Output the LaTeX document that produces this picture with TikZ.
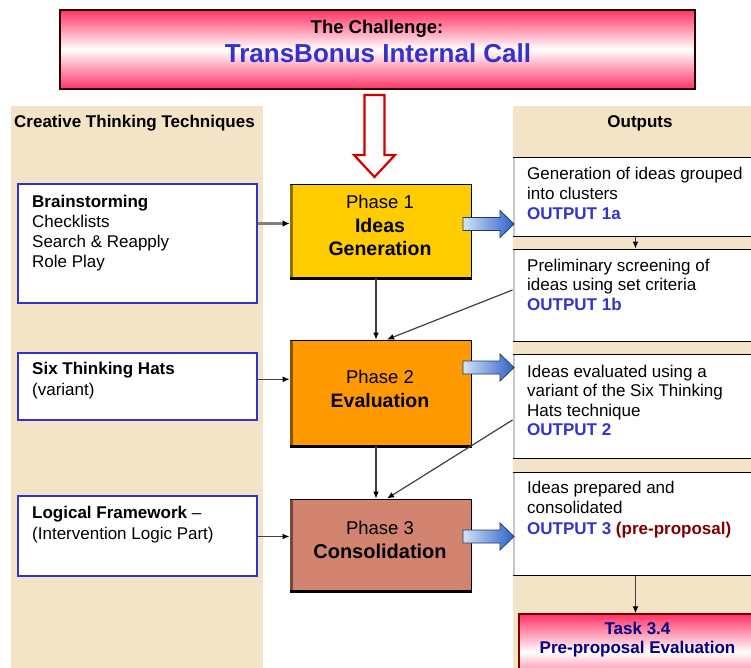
\documentclass[tikz,border=0pt]{standalone}
\usepackage{fontspec}
\setmainfont{Liberation Sans}
\usetikzlibrary{arrows.meta}
\definecolor{beige}{HTML}{F3E3C7}
\definecolor{phaseA}{HTML}{FFCC00}
\definecolor{phaseB}{HTML}{FF9900}
\definecolor{phaseC}{HTML}{D28471}
\definecolor{pinkc}{HTML}{FF3366}
\definecolor{bluetxt}{HTML}{3333CC}
\definecolor{darkredc}{HTML}{800000}
\definecolor{navyc}{HTML}{000080}
\definecolor{arrlight}{HTML}{D2E4F6}
\definecolor{arrdark}{HTML}{2F62C8}
\definecolor{arredge}{HTML}{1F3A70}
\definecolor{redarrow}{HTML}{D40000}
\tikzset{
 txt/.style={inner sep=0pt, font=\fontsize{17}{20}\selectfont},
 btxt/.style={inner sep=0pt, font=\bfseries\fontsize{17}{20}\selectfont},
 mtxt/.style={txt, anchor=north west, align=left},
 techbox/.style={draw=bluetxt, line width=2.6pt, fill=white, inner sep=0pt, minimum width=239pt},
 outbox/.style={draw=black, line width=1pt, fill=white, inner sep=0pt, minimum width=257pt},
 phasebox/.style={draw=black, line width=1pt, inner sep=0pt, minimum width=181pt},
 phasetxt/.style={inner sep=0pt, anchor=north, align=center, font=\fontsize{18.5}{23.5}\selectfont},
 link/.style={draw=black!75, line width=1.2pt, -{Latex[length=7pt,width=6pt,color=black]}},
 glink/.style={draw=black!50, line width=2.4pt, -{Latex[length=7pt,width=7pt,color=black]}},
 pinkbox/.style={top color=pinkc, bottom color=pinkc, middle color=white, inner sep=0pt},
}
\newcommand\blockarr[1]{\shade[left color=arrlight, right color=arrdark, draw=arredge, line width=0.8pt, line join=miter] (463,#1-6.5) -- (500,#1-6.5) -- (500,#1-13.5) -- (514,#1) -- (500,#1+13.5) -- (500,#1+6.5) -- (463,#1+6.5) -- cycle;}
\begin{document}
\begin{tikzpicture}[x=1pt,y=-1pt]
\useasboundingbox (0,0) rectangle (751,668);
\fill[white] (0,0) rectangle (751,668);
\clip (0,0) rectangle (751,668);
% column backgrounds
\fill[beige] (11,106) rectangle (263,700);
\fill[beige] (513,106) rectangle (760,700);
\node[btxt, anchor=base west] (lhead) at (14,128) {Creative Thinking Techniques};
\node[btxt, anchor=base] (rhead) at (640,128) {Outputs};

% top challenge box
\node[pinkbox, draw=black!75!red!70!black, line width=1.5pt, minimum width=635pt, minimum height=79pt] (top) at (377.5,49.5) {};
\node[anchor=base, inner sep=0pt, font=\bfseries\fontsize{18.5}{22}\selectfont] (ttl1) at (377,33.3) {The Challenge:};
\node[anchor=base, inner sep=0pt, text=bluetxt, font=\bfseries\fontsize{26}{30}\selectfont] (ttl2) at (378,62.7) {TransBonus Internal Call};

% red hollow arrow
\draw[redarrow, line width=2.2pt, fill=white, line join=miter] (364.5,95) -- (384.5,95) -- (384.5,155) -- (395,155) -- (374.5,177) -- (354,155) -- (364.5,155) -- cycle;

% technique boxes
\node[techbox, minimum height=119pt] (brain) at (137.5,243.5) {};
\node[mtxt] (braint) at (32,195) {\textbf{Brainstorming}\\Checklists\\Search \& Reapply\\Role Play};
\node[techbox, minimum height=67pt] (six) at (137.5,386.5) {};
\node[mtxt, font=\fontsize{17}{21}\selectfont] (sixt) at (32,362) {\textbf{Six Thinking Hats}\\(variant)};
\node[techbox, minimum height=80pt] (logi) at (137.5,536) {};
\node[mtxt, font=\fontsize{17}{21}\selectfont] (logit) at (32,506) {\textbf{Logical Framework} --\\(Intervention Logic Part)};

% output boxes
\node[outbox, minimum height=78pt] (o1a) at (641.5,197) {};
\node[outbox, minimum height=92pt] (o1b) at (641.5,295) {};
\node[outbox, minimum height=104pt] (o2) at (641.5,406) {};
\node[outbox, minimum height=103pt] (o3) at (641.5,523.5) {};
\foreach \b in {o1a,o1b,o2,o3}{
  \draw[black!22, line width=2pt] ([xshift=1.5pt,yshift=-1pt]\b.north west) -- ([xshift=1.5pt,yshift=1pt]\b.south west);
}
\node[mtxt] (o1at) at (527,166.5) {Generation of ideas grouped\\into clusters\\\textcolor{bluetxt}{\textbf{OUTPUT 1a}}};
\node[mtxt, font=\fontsize{17}{19.5}\selectfont] (o1bt) at (527,258.5) {Preliminary screening of\\ideas using set criteria\\\textcolor{bluetxt}{\textbf{OUTPUT 1b}}};
\node[mtxt, font=\fontsize{17}{19.5}\selectfont] (o2t) at (527,364.5) {Ideas evaluated using a\\variant of the Six Thinking\\Hats technique\\\textcolor{bluetxt}{\textbf{OUTPUT 2}}};
\node[mtxt, font=\fontsize{17}{20.5}\selectfont] (o3t) at (527,480.5) {Ideas prepared and\\consolidated\\\textbf{\textcolor{bluetxt}{OUTPUT 3} \textcolor{darkredc}{(pre-proposal)}}};

% task box
\node[pinkbox, draw=darkredc, line width=1.5pt, minimum width=251pt, minimum height=76pt] (task) at (644.5,652) {};
\node[anchor=north, inner sep=0pt, align=center, text=navyc, font=\bfseries\fontsize{17}{19.3}\selectfont] (taskt) at (637.5,622) {Task 3.4\\Pre-proposal Evaluation};

% phase boxes
\node[phasebox, fill=phaseA, minimum height=92pt] (p1) at (380.5,231) {};
\node[phasebox, fill=phaseB, minimum height=105pt] (p2) at (380.5,392.5) {};
\node[phasebox, fill=phaseC, minimum height=91pt] (p3) at (380.5,544.5) {};
\foreach \p/\c in {p1/phaseA,p2/phaseB,p3/phaseC}{
  \draw[black!45!\c, line width=2.5pt] ([xshift=1.75pt,yshift=-1pt]\p.north west) -- ([xshift=1.75pt,yshift=1pt]\p.south west);
  \draw[black, line width=2.5pt] ([yshift=-0.75pt]\p.south west) -- ([yshift=-0.75pt]\p.south east);
}
\node[phasetxt] (p1t) at (380,195) {Phase 1\\\textbf{\fontsize{19.5}{23.5}\selectfont Ideas}\\\textbf{\fontsize{19.5}{23.5}\selectfont Generation}};
\node[phasetxt] (p2t) at (380,370) {Phase 2\\\textbf{\fontsize{19.5}{23.5}\selectfont Evaluation}};
\node[phasetxt] (p3t) at (380,521) {Phase 3\\\textbf{\fontsize{20}{23.5}\selectfont Consolidation}};

% connectors
\coordinate (ya) at (0,223.5);
\coordinate (yb) at (0,379.3);
\coordinate (yc) at (0,536.5);
\coordinate (yd) at (0,290);
\coordinate (ye) at (0,420);
\coordinate (xa) at (376,0);
\coordinate (xb) at (387,0);
\coordinate (xc) at (635.5,0);
\draw[glink] (brain.east |- ya) -- (p1.west |- ya);
\draw[link] (six.east |- yb) -- (p2.west |- yb);
\draw[link] (logi.east |- yc) -- (p3.west |- yc);
\draw[link] (p1.south -| xa) -- (p2.north -| xa);
\draw[link] (p2.south -| xa) -- (p3.north -| xa);
\draw[link] (o1b.west |- yd) -- (p2.north -| xb);
\draw[link] (o2.west |- ye) -- (p3.north -| xb);
\draw[link] (o1a.south -| xc) -- (o1b.north -| xc);
\draw[link] (o3.south -| xc) -- (task.north -| xc);

% block arrows phase -> output
\blockarr{224}
\blockarr{367.5}
\blockarr{536.5}
\end{tikzpicture}
\end{document}
